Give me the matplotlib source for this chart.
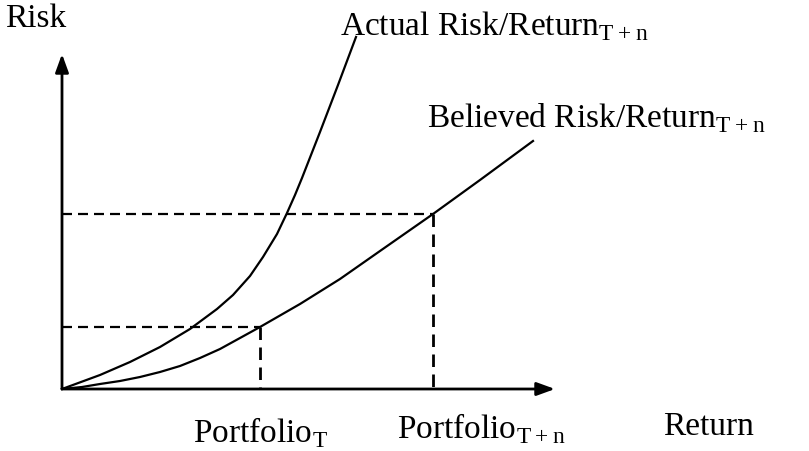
# sketch of actual vs believed risk/return curves

import matplotlib.pyplot as plt

plt.rcParams['font.family'] = ['Liberation Serif', 'DejaVu Serif']
plt.rcParams['mathtext.fontset'] = 'custom'
plt.rcParams['mathtext.rm'] = 'Liberation Serif'

# data (return on x, risk on y, arbitrary units)
actual_return = [0, 3.8, 6.8, 9.8, 12.8, 15.5, 17.1, 18.8, 20.1, 21.5, 22.5, 23.3, 24.0, 25.8, 27.6, 29.4]
actual_risk = [0, 1.4, 2.7, 4.2, 6.0, 8.0, 9.4, 11.3, 13.2, 15.5, 17.6, 19.4, 21.1, 25.7, 30.4, 35.2]

believed_return = [0, 2.0, 3.8, 5.8, 7.8, 9.8, 11.8, 13.8, 15.8, 19.8, 23.8, 27.8, 31.8, 37.1, 41.8, 47.1]
believed_risk = [0, 0.2, 0.5, 0.8, 1.2, 1.7, 2.3, 3.1, 4.0, 6.2, 8.5, 11.0, 13.8, 17.5, 20.9, 24.8]

# portfolios sit on the believed curve
portfolio_names = [r'Portfolio$_{\mathrm{T}}$', r'Portfolio$_{\mathrm{T+n}}$']
portfolio_return = [19.8, 37.1]
portfolio_risk = [6.2, 17.5]

x_axis_end = 49.3
y_axis_end = 33.5

fig = plt.figure(figsize=(8.09, 4.52), dpi=100)
ax = fig.add_axes([0, 0, 1, 1])
ax.set_xlim(-6.2, 74.7)
ax.set_ylim(-6.2, 39.0)
ax.axis('off')

# axes with arrow heads
arrow = dict(arrowstyle='-|>,head_length=0.55,head_width=0.2', mutation_scale=20,
             lw=2.0, color='black', shrinkA=0, shrinkB=0)
ax.annotate('', xy=(x_axis_end, 0), xytext=(0, 0), arrowprops=arrow)
ax.annotate('', xy=(0, y_axis_end), xytext=(0, 0), arrowprops=arrow)

# curves
ax.plot(actual_return, actual_risk, color='black', lw=1.6, solid_joinstyle='round')
ax.plot(believed_return, believed_risk, color='black', lw=1.6, solid_joinstyle='round')

# dashed guides to the portfolios
dash = (0, (4.5, 2.7))
for r, k in zip(portfolio_return, portfolio_risk):
    ax.plot([0, r], [k, k], color='black', lw=1.6, linestyle=dash)
    ax.plot([r, r], [k, 0], color='black', lw=2.0, linestyle=dash)

fs = 24
ax.text(-5.7, 36.3, 'Risk', fontsize=fs, va='baseline')
ax.text(60.1, -4.5, 'Return', fontsize=fs, va='baseline')
ax.text(27.8, 35.5, r'Actual Risk/Return$_{\mathrm{T+n}}$', fontsize=fs, va='baseline')
ax.text(36.5, 26.3, r'Believed Risk/Return$_{\mathrm{T+n}}$', fontsize=fs, va='baseline')
ax.text(13.1, -5.2, portfolio_names[0], fontsize=fs, va='baseline')
ax.text(33.5, -4.8, portfolio_names[1], fontsize=fs, va='baseline')

fig.savefig('out.png', dpi=100)
